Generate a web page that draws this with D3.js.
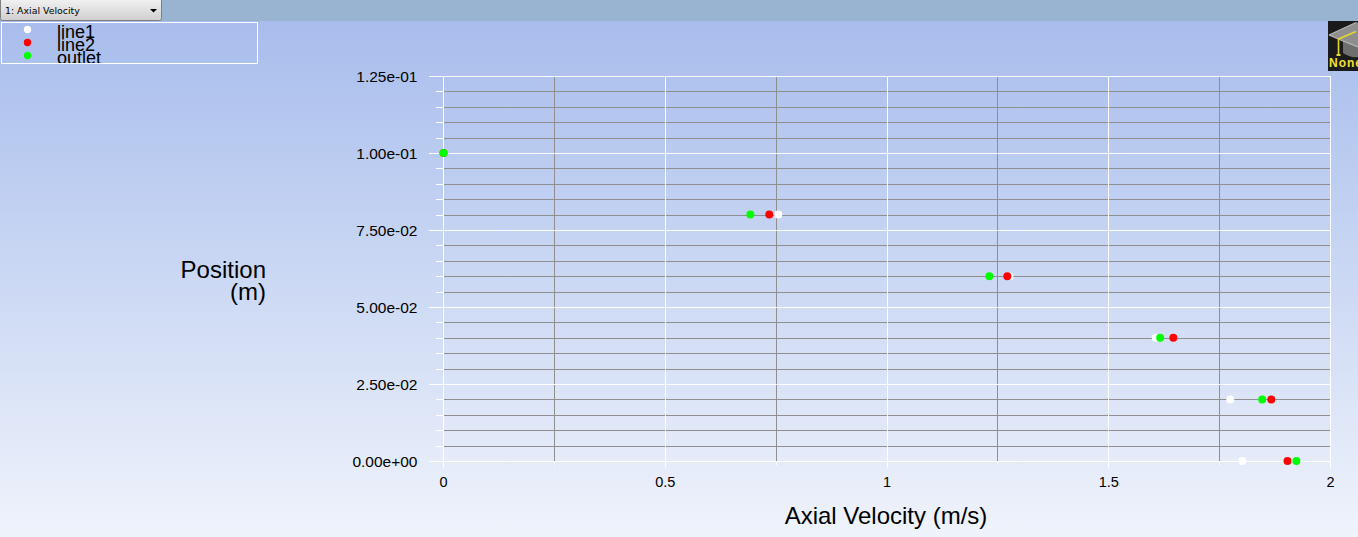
<!DOCTYPE html>
<html>
<head>
<meta charset="utf-8">
<script src="https://cdn.jsdelivr.net/npm/d3@7/dist/d3.min.js"></script>
<style>
html,body{margin:0;padding:0;overflow:hidden;background:#fff}
svg{display:block}
text{font-family:"Liberation Sans",Arial,sans-serif;fill:#000}
</style>
</head>
<body>
<svg id="c" width="1358" height="537"></svg>
<script>
const positions = [0, 0.02, 0.04, 0.06, 0.08, 0.1];
const line1 = [1.801, 1.774, 1.606, 1.276, 0.755, 0];
const line2 = [1.903, 1.8665, 1.6456, 1.2713, 0.7346, 0];
const outlet = [1.923, 1.846, 1.616, 1.2307, 0.692, 0];
const seriesNames = ["line1", "line2", "outlet"];
const seriesColors = ["#ffffff", "#ff0000", "#00ff00"];
const xMajor = [0, 0.5, 1, 1.5, 2];
const xMajorLabels = ["0", "0.5", "1", "1.5", "2"];
const xMinor = [0.25, 0.75, 1.25, 1.75];
const yMajor = [0, 0.025, 0.05, 0.075, 0.1, 0.125];
const yMajorLabels = ["0.00e+00", "2.50e-02", "5.00e-02", "7.50e-02", "1.00e-01", "1.25e-01"];
const yMinor = [0.005, 0.01, 0.015, 0.02, 0.03, 0.035, 0.04, 0.045, 0.055, 0.06, 0.065, 0.07, 0.08, 0.085, 0.09, 0.095, 0.105, 0.11, 0.115, 0.12];

const svg = d3.select("#c");
const defs = svg.append("defs");
const grad = defs.append("linearGradient").attr("id","bg").attr("x1",0).attr("x2",0).attr("y1",0).attr("y2",1);
grad.append("stop").attr("offset","0%").attr("stop-color","#a5bbec");
grad.append("stop").attr("offset","100%").attr("stop-color","#eff3fb");
const bt = defs.append("linearGradient").attr("id","btn").attr("x1",0).attr("x2",0).attr("y1",0).attr("y2",1);
bt.append("stop").attr("offset","0%").attr("stop-color","#f4f4f4");
bt.append("stop").attr("offset","100%").attr("stop-color","#cfcfcf");
defs.append("clipPath").attr("id","legClip").append("rect").attr("x",1).attr("y",22).attr("width",257).attr("height",41);
defs.append("clipPath").attr("id","logoClip").append("rect").attr("x",1328).attr("y",21).attr("width",30).attr("height",50);

svg.append("rect").attr("width",1358).attr("height",537).attr("fill","url(#bg)");
svg.append("rect").attr("width",1358).attr("height",21).attr("fill","#99b4d1");

// dropdown
svg.append("rect").attr("x",0.5).attr("y",-2).attr("width",161).attr("height",22.5).attr("rx",2)
  .attr("fill","url(#btn)").attr("stroke","#7f7f7f");
svg.append("text").attr("x",5).attr("y",14).style("font-family","'DejaVu Sans'").style("font-size","9.4px").text("1: Axial Velocity");
svg.append("path").attr("d","M150 9h7l-3.5 3.5z").attr("fill","#000");

const x = d3.scaleLinear().domain([0,2]).range([443.5,1330.5]);
const y = d3.scaleLinear().domain([0,0.125]).range([461.5,76.5]);
const plot = svg.append("g");

function style(g, stroke){
  g.select(".domain").remove();
  g.selectAll("line").attr("stroke",stroke).attr("stroke-width",1).attr("shape-rendering","crispEdges");
}
// minor grey grid
plot.append("g").attr("transform","translate(443.5,0)")
  .call(d3.axisRight(y).offset(0).tickValues(yMinor).tickSize(887).tickFormat(""))
  .call(g=>style(g,"#8f8f8f"));
plot.append("g").attr("transform","translate(0,76.5)")
  .call(d3.axisBottom(x).offset(0).tickValues(xMinor).tickSize(385).tickFormat(""))
  .call(g=>style(g,"#8f8f8f"));
// minor ticks
plot.append("g").attr("transform","translate(443.5,0)")
  .call(d3.axisLeft(y).offset(0).tickValues(yMinor).tickSize(8).tickFormat(""))
  .call(g=>style(g,"#ffffff"));
plot.append("g").attr("transform","translate(0,461.5)")
  .call(d3.axisBottom(x).offset(0).tickValues(xMinor).tickSize(3).tickFormat(""))
  .call(g=>style(g,"#ffffff"));
// major white grid + ticks
plot.append("g").attr("transform","translate(1330.5,0)")
  .call(d3.axisLeft(y).offset(0).tickValues(yMajor).tickSize(902).tickFormat(""))
  .call(g=>style(g,"#ffffff"));
plot.append("g").attr("transform","translate(0,76.5)")
  .call(d3.axisBottom(x).offset(0).tickValues(xMajor).tickSize(391).tickFormat(""))
  .call(g=>style(g,"#ffffff"));

// tick labels
const yl = plot.append("g").attr("transform","translate(443.5,1)")
  .call(d3.axisLeft(y).offset(0).tickValues(yMajor).tickSize(0).tickPadding(26).tickFormat((d,i)=>yMajorLabels[i]));
yl.select(".domain").remove();
yl.selectAll("text").style("font-family","'Liberation Sans'").style("font-size","15.5px").attr("fill","#000");
const xl = plot.append("g").attr("transform","translate(0,461.5)")
  .call(d3.axisBottom(x).offset(0).tickValues(xMajor).tickSize(0).tickPadding(15).tickFormat((d,i)=>xMajorLabels[i]));
xl.select(".domain").remove();
xl.selectAll("text").style("font-family","'Liberation Sans'").style("font-size","14.5px").attr("fill","#000");

// axis titles
svg.append("text").attr("x",886).attr("y",524).attr("text-anchor","middle").style("font-size","24px").text("Axial Velocity (m/s)");
svg.append("text").attr("x",266).attr("y",278).attr("text-anchor","end").style("font-size","24px").text("Position");
svg.append("text").attr("x",266).attr("y",300).attr("text-anchor","end").style("font-size","24px").text("(m)");

// points
[line1,line2,outlet].forEach((vals,i)=>{
  svg.append("g").attr("transform","translate(0,-0.5)").selectAll("circle").data(vals).join("circle")
    .attr("cx",d=>x(d)).attr("cy",(d,j)=>y(positions[j])).attr("r",4).attr("fill",seriesColors[i]);
});

// legend
svg.append("rect").attr("x",1.5).attr("y",22.5).attr("width",256).attr("height",41).attr("fill","none").attr("stroke","#fff").attr("stroke-width",1);
const lg = svg.append("g").attr("clip-path","url(#legClip)");
const legY = d3.scalePoint().domain(seriesNames).range([29.5,55.5]);
lg.selectAll("circle").data(seriesNames).join("circle").attr("cx",27.5).attr("cy",d=>legY(d)).attr("r",3.7).attr("fill",(d,i)=>seriesColors[i]);
lg.selectAll("text").data(seriesNames).join("text").attr("x",57).attr("y",d=>legY(d)+8.5).style("font-size","18px").text(d=>d);

// logo
const logo = svg.append("g").attr("clip-path","url(#logoClip)");
logo.append("rect").attr("x",1328).attr("y",21).attr("width",30).attr("height",50).attr("fill","#1a1a1a");
logo.append("path").attr("d","M1343 41 L1343 53 Q1350 58 1358 57 L1358 44 Z").attr("fill","#6e6e6e");
logo.append("path").attr("d","M1329 35 L1356 22.5 L1358 22.5 L1358 47 L1343 41 Z").attr("fill","#8f8f8f");
logo.append("path").attr("d","M1329 35 L1356 22.5 M1329 35 L1343 41 L1358 47").attr("fill","none").attr("stroke","#b5b5b5").attr("stroke-width",1.3);
logo.append("path").attr("d","M1356 31.5 L1338.5 39 L1338.5 55").attr("fill","none").attr("stroke","#e6d82b").attr("stroke-width",1.6);
logo.append("path").attr("d","M1336.5 55h4").attr("stroke","#e6d82b").attr("stroke-width",2);
logo.append("text").attr("x",1329).attr("y",67).style("font-size","12px").style("letter-spacing","1px").style("font-weight","bold").style("fill","#f2e22e").text("None");
</script>
</body>
</html>
